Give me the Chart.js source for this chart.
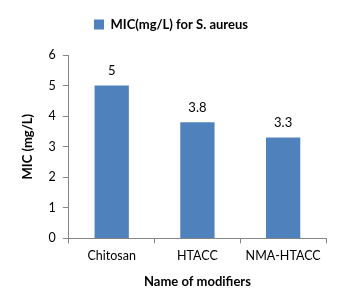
<!DOCTYPE html>
<html><head><meta charset="utf-8">
<script src="https://cdn.jsdelivr.net/npm/chart.js@4/dist/chart.umd.min.js"></script>
<style>html,body{margin:0;padding:0;background:#fff}#wrap{width:342px;height:308px}</style>
</head><body><div id="wrap"><canvas id="c"></canvas></div>
<script>
const categories = ["Chitosan", "HTACC", "NMA-HTACC"];
const micValues = [5, 3.8, 3.3];
const seriesName = "MIC(mg/L) for S. aureus";
const yTitle = "MIC (mg/L)";
const xTitle = "Name of modifiers";

const FONT = "Lato, 'Liberation Sans', sans-serif";
const labelPlugin = {
  id: 'valLabels',
  afterDatasetsDraw(chart) {
    const ctx = chart.ctx;
    const meta = chart.getDatasetMeta(0);
    ctx.save();
    ctx.font = "13px " + FONT;
    ctx.fillStyle = "#000";
    ctx.textAlign = "center";
    ctx.textBaseline = "bottom";
    meta.data.forEach((el, i) => {
      ctx.fillText(String(chart.data.datasets[0].data[i]), el.x, el.y - 8);
    });
    ctx.restore();
  }
};
new Chart(document.getElementById('c'), {
  type: 'bar',
  data: { labels: categories, datasets: [{ label: seriesName, data: micValues, backgroundColor: '#4F81BD', borderWidth: 0, categoryPercentage: 0.8, barPercentage: 0.5 }] },
  options: {
    responsive: true, maintainAspectRatio: false, animation: false,
    layout: { padding: { left: 16, right: 16, top: 0, bottom: 14 } },
    plugins: {
      legend: { position: 'top', labels: { boxWidth: 10, boxHeight: 10, color: '#000', font: { family: FONT, size: 13, weight: 'bold' }, padding: 18 } },
      tooltip: { enabled: false }
    },
    scales: {
      x: {
        offset: true,
        grid: { offset: true, drawOnChartArea: false, drawTicks: true, tickLength: 5, color: '#868686' },
        border: { color: '#868686' },
        ticks: { color: '#000', font: { family: FONT, size: 12.5 }, padding: 5, maxRotation: 0 },
        title: { display: true, text: xTitle, color: '#000', font: { family: FONT, size: 13, weight: 'bold' }, padding: { top: 6 } }
      },
      y: {
        min: 0, max: 6,
        grid: { drawOnChartArea: false, drawTicks: true, tickLength: 6, color: '#868686' },
        border: { color: '#868686' },
        ticks: { stepSize: 1, color: '#000', font: { family: FONT, size: 12.5 }, padding: 7 },
        title: { display: true, text: yTitle, color: '#000', font: { family: FONT, size: 13, weight: 'bold' }, padding: { bottom: 6 } }
      }
    }
  },
  plugins: [labelPlugin, {
    id: 'legendGap',
    beforeInit(chart) {
      const orig = chart.legend.fit;
      chart.legend.fit = function () { orig.call(this); this.height += 14; };
    }
  }]
});
</script></body></html>
